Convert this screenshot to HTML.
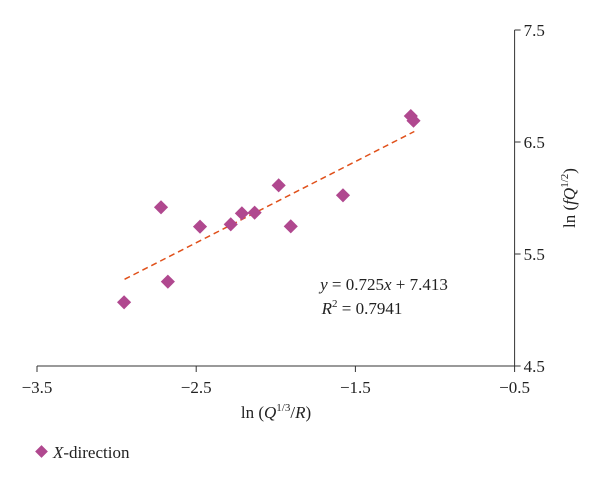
<!DOCTYPE html>
<html><head><meta charset="utf-8"><style>
body{margin:0;background:#fff;}
svg text{font-family:"Liberation Serif",serif;fill:#222;}
</style></head><body>
<svg width="600" height="480" viewBox="0 0 600 480" id="chart">
<g id="axes"></g>
<g id="marks"></g>
<text x="384" y="290" font-size="17" text-anchor="middle"><tspan font-style="italic">y</tspan> = 0.725<tspan font-style="italic">x</tspan> + 7.413</text>
<text x="362" y="314" font-size="17" text-anchor="middle"><tspan font-style="italic">R</tspan><tspan font-size="11" dy="-7">2</tspan><tspan dy="7"> = 0.7941</tspan></text>
<text x="276" y="418" font-size="17" text-anchor="middle">ln (<tspan font-style="italic">Q</tspan><tspan font-size="11" dy="-7">1/3</tspan><tspan dy="7">/</tspan><tspan font-style="italic">R</tspan>)</text>
<text transform="translate(575,198) rotate(-90)" font-size="17" text-anchor="middle">ln (<tspan font-style="italic">fQ</tspan><tspan font-size="11" dy="-7">1/2</tspan><tspan dy="7">)</tspan></text>
<g>
<rect x="37" y="447" width="9" height="9" fill="#b0488f" transform="rotate(45 41.5 451.5)"/>
<text x="53" y="458" font-size="17"><tspan font-style="italic">X</tspan>-direction</text>
</g>
</svg>
<script>
const xVals=[-2.953,-2.721,-2.678,-2.476,-2.283,-2.213,-2.133,-1.982,-1.906,-1.578,-1.152,-1.135];
const yVals=[5.069,5.917,5.253,5.744,5.765,5.863,5.869,6.113,5.747,6.024,6.732,6.690];
const xTicks=[-3.5,-2.5,-1.5,-0.5];
const yTicks=[4.5,5.5,6.5,7.5];
const xTickLabels=["−3.5","−2.5","−1.5","−0.5"];
const yTickLabels=["4.5","5.5","6.5","7.5"];
const slope=0.725, intercept=7.413;
const fitRange=[-2.95,-1.13];
const NS="http://www.w3.org/2000/svg";
const sx=v=>37+(v+3.5)*159.2;
const sy=v=>366-(v-4.5)*112;
function mk(t,a,p){const e=document.createElementNS(NS,t);for(const k in a)e.setAttribute(k,a[k]);p.appendChild(e);return e;}
const ax=document.getElementById('axes'),mg=document.getElementById('marks');
let xl=mk('line',{x1:sx(-3.5),y1:366,x2:sx(-0.5),y2:366,stroke:'#333','stroke-width':1},ax);

let yl=mk('line',{x1:sx(-0.5),y1:sy(4.5),x2:sx(-0.5),y2:sy(7.5),stroke:'#333','stroke-width':1},ax);

xTicks.forEach((t,i)=>{
 const l=mk('line',{x1:sx(t),y1:366,x2:sx(t),y2:372,stroke:'#333'},ax);
 
 const tx=mk('text',{x:sx(t),y:393,'font-size':17,'text-anchor':'middle'},ax);tx.textContent=xTickLabels[i];
 
});
yTicks.forEach((t,i)=>{
 const l=mk('line',{x1:sx(-0.5),y1:sy(t),x2:sx(-0.5)+6,y2:sy(t),stroke:'#333'},ax);
 
 const tx=mk('text',{x:sx(-0.5)+9,y:sy(t)+6,'font-size':17},ax);tx.textContent=yTickLabels[i];
 
});
const fl=mk('line',{x1:sx(fitRange[0]),y1:sy(slope*fitRange[0]+intercept),x2:sx(fitRange[1]),y2:sy(slope*fitRange[1]+intercept),stroke:'#e0501a','stroke-width':1.5,'stroke-dasharray':'6,4'},mg);

xVals.forEach((x,i)=>{
 const cx=sx(x),cy=sy(yVals[i]);
 const p=mk('rect',{x:cx-5,y:cy-5,width:10,height:10,fill:'#b0488f',transform:`rotate(45 ${cx} ${cy})`},mg);
 
});
</script>
</body></html>
